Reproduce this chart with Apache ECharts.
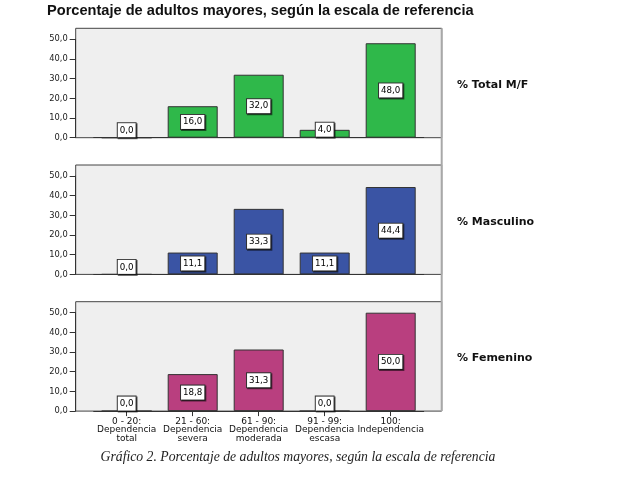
<!DOCTYPE html>
<html>
<head>
<meta charset="utf-8">
<script src="https://cdn.jsdelivr.net/npm/echarts@6/dist/echarts.min.js"></script>
<style>html,body{margin:0;padding:0;background:#fff}#c{width:619px;height:479px}</style>
</head>
<body>
<div id="c"></div>
<script>
var chartTitle = 'Porcentaje de adultos mayores, según la escala de referencia';
var caption = 'Gráfico 2. Porcentaje de adultos mayores, según la escala de referencia';
var categories = ['0 - 20:\nDependencia\ntotal', '21 - 60:\nDependencia\nsevera', '61 - 90:\nDependencia\nmoderada', '91 - 99:\nDependencia\nescasa', '100:\nIndependencia'];
var totalMF = [0.0, 16.0, 32.0, 4.0, 48.0];
var masculino = [0.0, 11.1, 33.3, 11.1, 44.4];
var femenino = [0.0, 18.8, 31.3, 0.0, 50.0];
var panelLabels = ['% Total M/F', '% Masculino', '% Femenino'];
var yMin = 0, yMax = 50, yInterval = 10;

var seriesData = [totalMF, masculino, femenino];
var colors = ['#2fb84a', '#3a54a4', '#b93f7f'];

var boxLeft = 75.7, boxRight = 441.7, padX = 18;
var panelTops = [28.3, 165, 301.7];   // top of grey box
var headroom = 11;                    // box top to y=50 line
var plotH = 98.4;

function fmt(v){ return v.toFixed(1).replace('.', ','); }

var grids = [], xAxes = [], yAxes = [], series = [], graphics = [];
panelTops.forEach(function(bt, i){
  grids.push({show:true, left:boxLeft, top:bt, width:boxRight-boxLeft, height:headroom+plotH,
    backgroundColor:'#efefef', borderColor:'#444', borderWidth:1, z:0});
  xAxes.push({gridIndex:2*i, type:'category', data:categories, show:false});
  yAxes.push({gridIndex:2*i, type:'value', min:yMin, max:yMax, show:false});
  grids.push({left:boxLeft+padX, top:bt+headroom, width:boxRight-boxLeft-2*padX, height:plotH});
  var last = i === 2;
  xAxes.push({gridIndex:2*i+1, type:'category', data:categories,
    axisLine:{show:true, lineStyle:{color:'#333', width:1}},
    axisTick:{show:last, alignWithLabel:true, length:5, lineStyle:{color:'#333'}},
    axisLabel:{show:last, interval:0, margin:6, color:'#111', fontFamily:'DejaVu Sans', fontSize:9, lineHeight:8.5, align:'center'},
    splitLine:{show:false}});
  yAxes.push({gridIndex:2*i+1, type:'value', min:yMin, max:yMax, interval:yInterval, offset:padX,
    axisLine:{show:true, lineStyle:{color:'#333', width:1}},
    axisTick:{show:true, length:6, lineStyle:{color:'#333'}},
    axisLabel:{margin:8, color:'#222', fontFamily:'DejaVu Sans', fontSize:8.3, formatter:function(v){return fmt(v);}},
    splitLine:{show:false}});
  series.push({type:'bar', xAxisIndex:2*i+1, yAxisIndex:2*i+1, barWidth:50,
    itemStyle:{color:colors[i], borderColor:'#333', borderWidth:1},
    data: seriesData[i].map(function(v){
      return {value:v, label:{position: v < 9 ? 'insideBottom' : 'inside', distance:1}};
    }),
    label:{show:true, formatter:function(p){return fmt(p.value);},
      color:'#000', fontFamily:'DejaVu Sans', fontSize:8.7, lineHeight:11,
      backgroundColor:'#fff', borderColor:'#333', borderWidth:1, padding:[2,2,1,2],
      shadowColor:'rgba(0,0,0,0.55)', shadowOffsetX:1, shadowOffsetY:1, shadowBlur:0},
    z:3});
  graphics.push({type:'text', x:457, y:bt+(headroom+plotH)/2+2, z:10,
    style:{text:panelLabels[i], fill:'#111', font:'bold 11px "DejaVu Sans"', textVerticalAlign:'middle'}});
});

graphics.push({type:'line', shape:{x1:boxRight, y1:panelTops[0], x2:boxRight, y2:panelTops[2]+headroom+plotH}, z:10,
  style:{stroke:'#a8a8a8', lineWidth:2}});
graphics.push({type:'text', x:298, y:457, z:10,
  style:{text:caption, fill:'#222', font:'italic 13.7px "Liberation Serif"', textAlign:'center', textVerticalAlign:'middle'}});

var chart = echarts.init(document.getElementById('c'), null, {renderer:'canvas'});
chart.setOption({
  animation:false,
  backgroundColor:'#fff',
  title:{text:chartTitle, left:47, top:3, padding:0, textStyle:{fontFamily:'Liberation Sans', fontWeight:'bold', fontSize:14.6, color:'#111'}},
  grid:grids, xAxis:xAxes, yAxis:yAxes, series:series, graphic:graphics
});
</script>
</body>
</html>
